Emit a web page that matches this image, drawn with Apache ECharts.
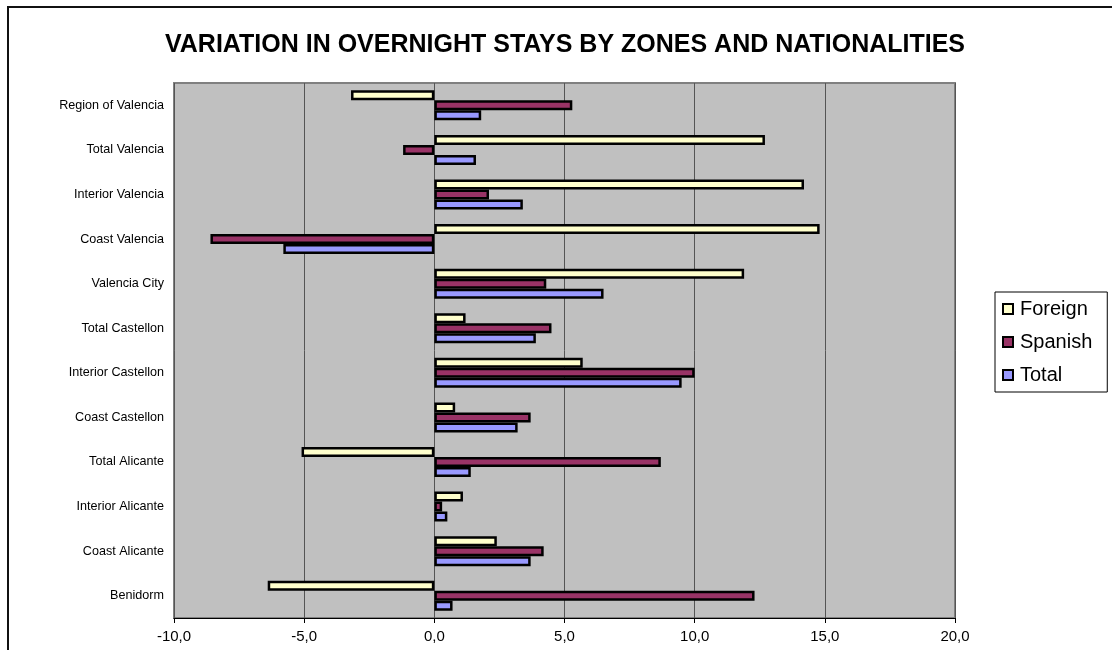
<!DOCTYPE html>
<html>
<head>
<meta charset="utf-8">
<script src="https://cdn.jsdelivr.net/npm/echarts@6/dist/echarts.min.js"></script>
<style>
  html, body { margin: 0; padding: 0; background: #fff; }
  #chart { width: 1112px; height: 650px; }
</style>
</head>
<body>
<div id="chart"></div>
<script>
// Zones, listed top to bottom
const zones = [
  'Region of Valencia', 'Total Valencia', 'Interior Valencia', 'Coast Valencia',
  'Valencia City', 'Total Castellon', 'Interior Castellon', 'Coast Castellon',
  'Total Alicante', 'Interior Alicante', 'Coast Alicante', 'Benidorm'
];
// Variation in overnight stays (%), same order as zones
const foreign = [-3.2, 12.7, 14.2, 14.8, 11.9, 1.2, 5.7, 0.8, -5.1, 1.1, 2.4, -6.4];
const spanish = [5.3, -1.2, 2.1, -8.6, 4.3, 4.5, 10.0, 3.7, 8.7, 0.3, 4.2, 12.3];
const total   = [1.8, 1.6, 3.4, -5.8, 6.5, 3.9, 9.5, 3.2, 1.4, 0.5, 3.7, 0.7];

const seriesNames = ['Foreign', 'Spanish', 'Total'];
const seriesColors = { Foreign: '#FFFFCC', Spanish: '#993366', Total: '#9999FF' };
const seriesValues = { Foreign: foreign, Spanish: spanish, Total: total };

const chart = echarts.init(document.getElementById('chart'), null, { renderer: 'canvas' });

const makeSeries = name => ({
  name: name,
  type: 'bar',
  data: seriesValues[name],
  barWidth: 10,
  barGap: '0%',
  itemStyle: { color: seriesColors[name], borderColor: '#000', borderWidth: 2.5 },
  emphasis: { disabled: true },
  animation: false
});

chart.setOption({
  animation: false,
  textStyle: { fontFamily: 'Liberation Sans, Arial, sans-serif' },
  title: {
    text: 'VARIATION IN OVERNIGHT STAYS BY ZONES AND NATIONALITIES',
    left: 560,
    textAlign: 'center',
    top: 28,
    textStyle: { fontSize: 25, fontWeight: 'bold', color: '#000', fontFamily: 'Liberation Sans, Arial, sans-serif' }
  },
  graphic: [{
    type: 'rect',
    shape: { x: 8, y: 7, width: 1200, height: 700 },
    style: { fill: 'none', stroke: '#111', lineWidth: 2 },
    silent: true
  }],
  legend: {
    data: seriesNames,
    orient: 'vertical',
    left: 995,
    top: 292,
    padding: [6, 15, 6, 7],
    itemGap: 11,
    itemWidth: 10,
    itemHeight: 10,
    icon: 'rect',
    borderColor: '#000',
    borderWidth: 1,
    itemStyle: { borderColor: '#000', borderWidth: 2 },
    textStyle: { fontSize: 20, color: '#000', lineHeight: 22, padding: [0, 0, 0, 2] },
    selectedMode: false
  },
  grid: {
    left: 174,
    right: 157,
    top: 83,
    bottom: 32,
    show: true,
    backgroundColor: '#C0C0C0',
    borderColor: '#808080',
    borderWidth: 2
  },
  xAxis: {
    type: 'value',
    min: -10,
    max: 20,
    interval: 5,
    axisLine: { show: true, onZero: false, lineStyle: { color: '#000', width: 1 } },
    axisTick: { show: true, length: 5, lineStyle: { color: '#000' } },
    axisLabel: {
      fontSize: 15,
      color: '#000',
      margin: 11,
      formatter: v => v.toFixed(1).replace('.', ',')
    },
    splitLine: { show: true, lineStyle: { color: '#555', width: 1 } }
  },
  yAxis: {
    type: 'category',
    data: zones,
    inverse: true,
    axisLine: { show: false },
    axisTick: { show: false },
    axisLabel: { fontSize: 12.6, color: '#000', margin: 10 }
  },
  series: seriesNames.map(makeSeries)
});
</script>
</body>
</html>
